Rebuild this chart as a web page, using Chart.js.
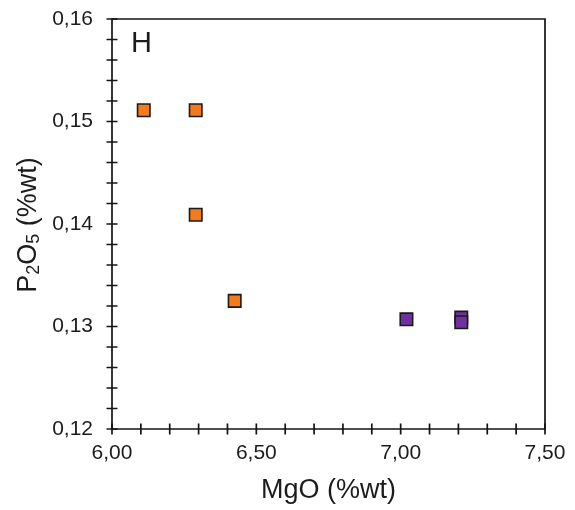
<!DOCTYPE html>
<html>
<head>
<meta charset="utf-8">
<script src="https://cdn.jsdelivr.net/npm/chart.js@4/dist/chart.umd.min.js"></script>
<style>
  html, body { margin: 0; padding: 0; background: #ffffff; }
  #wrap { width: 575px; height: 510px; }
</style>
</head>
<body>
<div id="wrap"><canvas id="c" width="575" height="510"></canvas></div>
<script>
// MgO vs P2O5 (wt %) — panel H
const orangeMgO  = [6.11, 6.29, 6.29, 6.425];
const orangeP2O5 = [0.1511, 0.1511, 0.1409, 0.1325];
const purpleMgO  = [7.02, 7.21, 7.21];
const purpleP2O5 = [0.1307, 0.13087, 0.13041];

const xTickValues = [6.0, 6.5, 7.0, 7.5];
const xTickLabels = ['6,00', '6,50', '7,00', '7,50'];
const yTickValues = [0.12, 0.13, 0.14, 0.15, 0.16];
const yTickLabels = ['0,12', '0,13', '0,14', '0,15', '0,16'];
const xMinorStep = 0.1;
const yMinorStep = 0.002;

const panelLabel = 'H';
const xTitle = 'MgO (%wt)';
// y title pieces: [text, isSubscript]
const yTitleParts = [['P', false], ['2', true], ['O', false], ['5', true], [' (%wt)', false]];

const INK = '#1c1c1c';
const FONT = '"Liberation Sans", Arial, sans-serif';

const toPoints = (xs, ys) => xs.map((x, i) => ({ x: x, y: ys[i] }));

// Frame, crossing tick marks, panel letter and axis titles
const framePlugin = {
  id: 'frame',
  beforeDatasetsDraw(chart) {
    const { ctx, chartArea: a, scales: { x, y } } = chart;
    ctx.save();
    ctx.strokeStyle = '#141414';
    ctx.lineWidth = 1.7;
    ctx.lineCap = 'square';
    ctx.beginPath();
    ctx.moveTo(a.left, a.top); ctx.lineTo(a.right, a.top); ctx.lineTo(a.right, a.bottom);
    ctx.moveTo(a.left, a.top); ctx.lineTo(a.left, a.bottom); ctx.lineTo(a.right, a.bottom);
    ctx.stroke();

    ctx.lineCap = 'butt';
    ctx.beginPath();
    const half = 5.5;
    const nx = Math.round((x.max - x.min) / xMinorStep);
    for (let i = 0; i <= nx; i++) {
      const px = x.getPixelForValue(x.min + i * xMinorStep);
      ctx.moveTo(px, a.bottom - half); ctx.lineTo(px, a.bottom + half);
    }
    const ny = Math.round((y.max - y.min) / yMinorStep);
    for (let i = 0; i <= ny; i++) {
      const py = y.getPixelForValue(y.min + i * yMinorStep);
      ctx.moveTo(a.left - half, py); ctx.lineTo(a.left + half, py);
    }
    ctx.stroke();
    ctx.restore();
  },
  afterDraw(chart) {
    const { ctx, chartArea: a } = chart;
    ctx.save();
    ctx.fillStyle = INK;
    ctx.textBaseline = 'alphabetic';

    // panel letter
    ctx.font = '29px ' + FONT;
    ctx.textAlign = 'left';
    ctx.fillText(panelLabel, a.left + 19, 51.5);

    // x axis title
    ctx.font = '27px ' + FONT;
    ctx.textAlign = 'center';
    ctx.fillText(xTitle, (a.left + a.right) / 2, 498);

    // y axis title with subscripts, rotated
    const big = 27, small = 18;
    let total = 0;
    yTitleParts.forEach(([t, sub]) => {
      ctx.font = (sub ? small : big) + 'px ' + FONT;
      total += ctx.measureText(t).width;
    });
    ctx.translate(36, 225);
    ctx.rotate(-Math.PI / 2);
    ctx.textAlign = 'left';
    let cx = -total / 2;
    yTitleParts.forEach(([t, sub]) => {
      ctx.font = (sub ? small : big) + 'px ' + FONT;
      ctx.fillText(t, cx, sub ? 3 : 0);
      cx += ctx.measureText(t).width;
    });
    ctx.restore();
  }
};

new Chart(document.getElementById('c'), {
  type: 'scatter',
  data: {
    datasets: [
      {
        data: toPoints(orangeMgO, orangeP2O5),
        pointStyle: 'rect',
        pointRadius: 8.8,
        pointBackgroundColor: '#f47a1c',
        pointBorderColor: '#1a1a1a',
        pointBorderWidth: 1.6
      },
      {
        data: toPoints(purpleMgO, purpleP2O5),
        pointStyle: 'rect',
        pointRadius: 8.8,
        pointBackgroundColor: '#7031a0',
        pointBorderColor: '#1a1a1a',
        pointBorderWidth: 1.6
      }
    ]
  },
  options: {
    responsive: false,
    animation: false,
    events: [],
    layout: { padding: { top: 19, right: 30, left: 0, bottom: 0 } },
    plugins: { legend: { display: false }, tooltip: { enabled: false } },
    scales: {
      x: {
        type: 'linear',
        min: 6.0,
        max: 7.5,
        grid: { display: false, drawTicks: false },
        border: { display: false },
        afterBuildTicks: (s) => { s.ticks = xTickValues.map(v => ({ value: v })); },
        afterFit: (s) => { s.height = 81; s.paddingLeft = 0; s.paddingRight = 0; },
        ticks: {
          padding: 12,
          maxRotation: 0,
          autoSkip: false,
          color: INK,
          font: { family: FONT, size: 21 },
          callback: (v, i) => xTickLabels[i]
        }
      },
      y: {
        type: 'linear',
        min: 0.12,
        max: 0.16,
        grid: { display: false, drawTicks: false },
        border: { display: false },
        afterBuildTicks: (s) => { s.ticks = yTickValues.map(v => ({ value: v })); },
        afterFit: (s) => { s.width = 112; s.paddingTop = 0; s.paddingBottom = 0; },
        ticks: {
          padding: 19,
          autoSkip: false,
          color: INK,
          font: { family: FONT, size: 21 },
          callback: (v, i) => yTickLabels[i]
        }
      }
    }
  },
  plugins: [framePlugin]
});
</script>
</body>
</html>
